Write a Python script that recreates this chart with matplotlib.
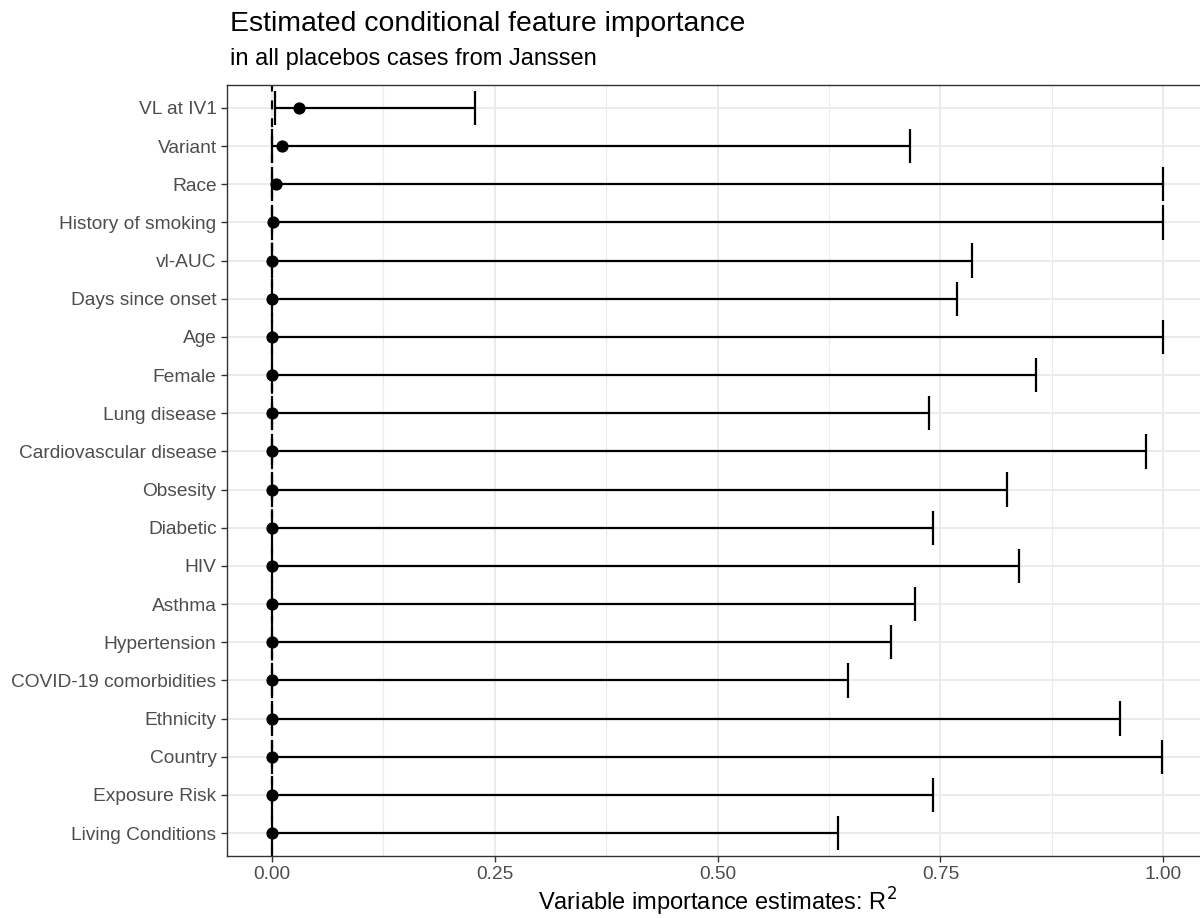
import numpy as np
import matplotlib
matplotlib.use("Agg")
import matplotlib.pyplot as plt
from matplotlib.ticker import MultipleLocator, FormatStrFormatter

plt.rcParams['font.family'] = ['Liberation Sans', 'DejaVu Sans']

features = ["VL at IV1", "Variant", "Race", "History of smoking", "vl-AUC",
            "Days since onset", "Age", "Female", "Lung disease",
            "Cardiovascular disease", "Obsesity", "Diabetic", "HIV", "Asthma",
            "Hypertension", "COVID-19 comorbidities", "Ethnicity", "Country",
            "Exposure Risk", "Living Conditions"]
est = [0.031, 0.012, 0.005, 0.002, 0.0, 0.0, 0.0, 0.0, 0.0, 0.0,
       0.0, 0.0, 0.0, 0.0, 0.0, 0.0, 0.0, 0.0, 0.0, 0.0]
lower = [0.004, 0.0, 0.0, 0.0, 0.0, 0.0, 0.0, 0.0, 0.0, 0.0,
         0.0, 0.0, 0.0, 0.0, 0.0, 0.0, 0.0, 0.0, 0.0, 0.0]
upper = [0.228, 0.716, 1.0, 1.0, 0.785, 0.768, 1.0, 0.857, 0.737, 0.981,
         0.825, 0.742, 0.838, 0.722, 0.694, 0.646, 0.951, 0.998, 0.742, 0.635]

n = len(features)
y = np.arange(n)[::-1]  # first feature on top

fig = plt.figure(figsize=(12, 9.19), dpi=100)
# panel runs past the right edge of the figure
ax = fig.add_axes([227 / 1200, 1 - 856 / 919, 981 / 1200, 771 / 919])

# theme_bw-like grid
ax.set_facecolor("white")
ax.xaxis.set_major_locator(MultipleLocator(0.25))
ax.xaxis.set_minor_locator(MultipleLocator(0.125))
ax.xaxis.set_major_formatter(FormatStrFormatter("%.2f"))
ax.set_yticks(y)
ax.set_yticklabels(features)
ax.grid(which="major", axis="both", color="#EBEBEB", lw=1.4, zorder=0)
ax.grid(which="minor", axis="x", color="#EBEBEB", lw=0.8, zorder=0)
ax.set_axisbelow(True)

ax.axvline(0, color="black", lw=1.6, linestyle=(0, (4, 4)), zorder=2)

# error bars with caps, then the point estimates
lw = 1.6
ax.hlines(y, lower, upper, color="black", lw=lw, zorder=3)
ax.vlines(lower, y - 0.45, y + 0.45, color="black", lw=lw, zorder=3)
ax.vlines(upper, y - 0.45, y + 0.45, color="black", lw=lw, zorder=3)
ax.plot(est, y, "o", color="black", ms=7.8, zorder=4)

ax.set_xlim(-0.05, 1.05)
ax.set_ylim(-0.6, n - 1 + 0.6)

for s in ax.spines.values():
    s.set_color("#333333")
    s.set_linewidth(1.0)
ax.tick_params(axis="both", which="major", color="#333333", length=4.5,
               width=1.0, labelcolor="#4D4D4D", labelsize=13.8, pad=3)
ax.tick_params(axis="both", which="minor", length=0)

ax.set_xlabel("Variable importance estimates: R$^2$", fontsize=17,
              color="black")
ax.xaxis.set_label_coords(0.5, -0.039)

fig.text(230 / 1200, 1 - 31 / 919, "Estimated conditional feature importance",
         fontsize=20.4, color="black", ha="left", va="baseline")
fig.text(230 / 1200, 1 - 65 / 919, "in all placebos cases from Janssen",
         fontsize=17, color="black", ha="left", va="baseline")

fig.savefig("out.png", dpi=100)
